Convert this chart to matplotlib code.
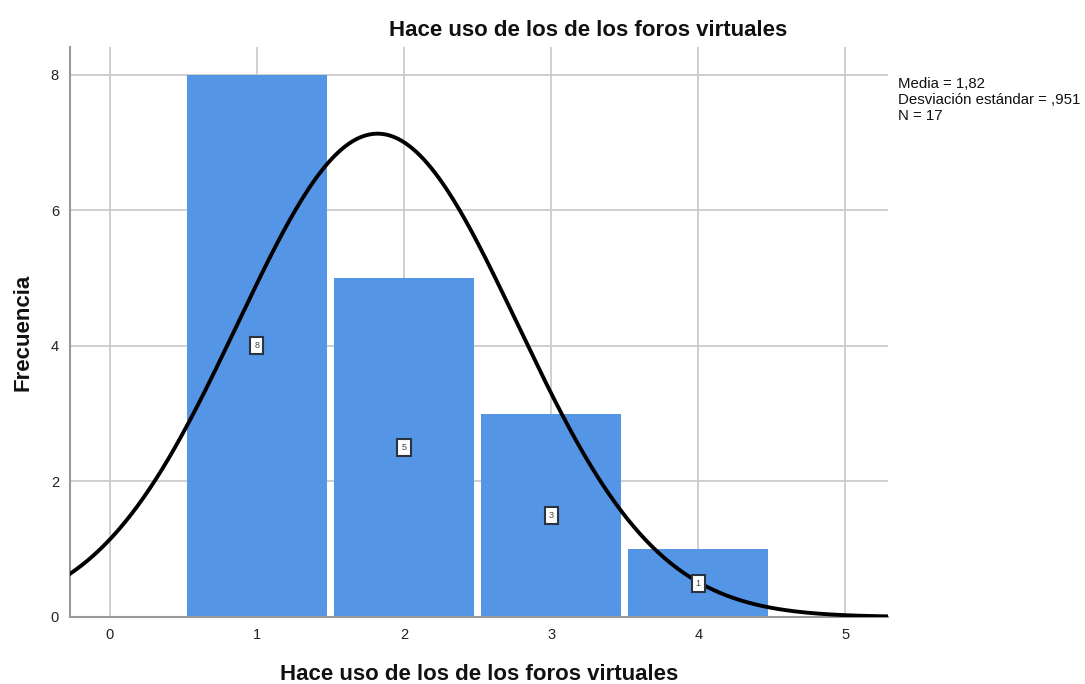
import numpy as np
import matplotlib
matplotlib.use("Agg")
import matplotlib.pyplot as plt

categories = [1, 2, 3, 4]
counts = [8, 5, 3, 1]
mean_val = 1.82
sd_val = 0.951
n_val = 17
title = "Hace uso de los de los foros virtuales"
xlabel = "Hace uso de los de los foros virtuales"
ylabel = "Frecuencia"
xticks = [0, 1, 2, 3, 4, 5]
yticks = [0, 2, 4, 6, 8]

plt.rcParams['font.family'] = ['Liberation Sans', 'DejaVu Sans']

fig = plt.figure(figsize=(10.85, 6.84), dpi=100)
ax = fig.add_axes([70/1085, 67/684, (888-70)/1085, (617-47)/684])

ax.set_xlim(-0.27, 5.29)
ax.set_ylim(0, 8.41)
ax.grid(True, color='#cccccc', linewidth=1.3, zorder=0)
ax.set_axisbelow(True)

ax.bar(categories, counts, width=0.95, color='#5595e5', edgecolor='none', zorder=2)

for c, v in zip(categories, counts):
    ax.text(c, v / 2, str(v), ha='center', va='center', fontsize=6.5, color='#444444', zorder=5,
            bbox=dict(boxstyle='square,pad=0.45', facecolor='white', edgecolor='#2a3340', linewidth=1.5))

xs = np.linspace(-0.27, 5.29, 400)
ys = n_val * 1.0 / (sd_val * np.sqrt(2 * np.pi)) * np.exp(-0.5 * ((xs - mean_val) / sd_val) ** 2)
ax.plot(xs, ys, color='black', linewidth=2.8, zorder=4)

ax.set_xticks(xticks)
ax.set_yticks(yticks)
ax.tick_params(length=0, labelsize=10.5, colors='#222222', pad=8)
for s in ['top', 'right']:
    ax.spines[s].set_visible(False)
for s in ['left', 'bottom']:
    ax.spines[s].set_color('#999999')
    ax.spines[s].set_linewidth(1.5)

fig.text(588/1085, 1 - 30/684, title, fontsize=16, fontweight='bold', ha='center', va='center', color='#111111')
fig.text(479/1085, 1 - 675/684, xlabel, fontsize=16, fontweight='bold', ha='center', va='center', color='#111111')
ax.set_ylabel(ylabel, fontsize=16, fontweight='bold', labelpad=12, color='#111111')

fig.text(898/1085, 1 - 100/684, "Media = 1,82\nDesviación estándar = ,951\nN = 17",
         fontsize=10.8, va='center', ha='left', linespacing=1.15, color='#111111')

fig.savefig("out.png", dpi=100)
